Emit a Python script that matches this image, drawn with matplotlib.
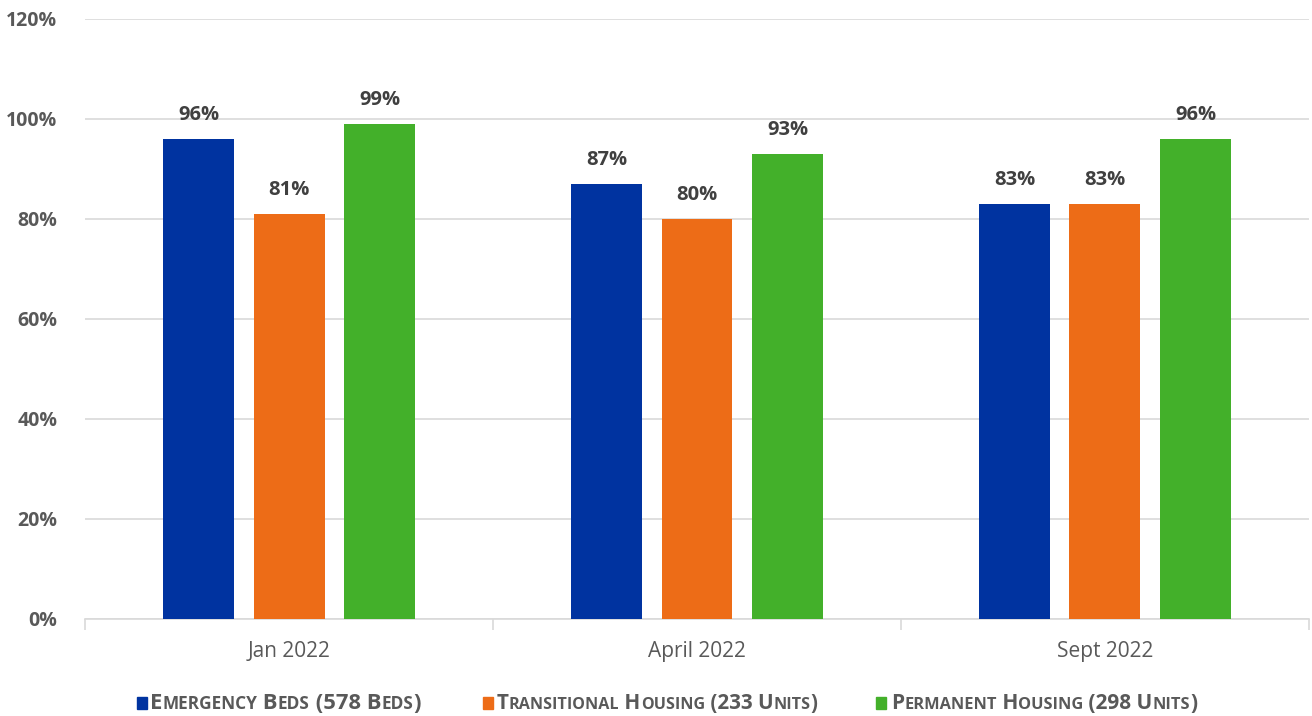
import numpy as np
import matplotlib.pyplot as plt
from matplotlib.patches import Rectangle

plt.rcParams['font.family'] = ['Open Sans', 'DejaVu Sans']

periods = ["Jan 2022", "April 2022", "Sept 2022"]
emergency = [96, 87, 83]
transitional = [81, 80, 83]
permanent = [99, 93, 96]

series = [emergency, transitional, permanent]
labels = ["Emergency Beds (578 Beds)",
          "Transitional Housing (233 Units)",
          "Permanent Housing (298 Units)"]
colors = ["#0033a0", "#ed6c17", "#43b02a"]
grey = "#595959"

fig = plt.figure(figsize=(13.12, 7.16), dpi=100)
ax = fig.add_axes([0.0648, 0.1355, 0.9329, 0.838])

x = np.arange(len(periods))
width = 0.174
step = 0.222
for i, vals in enumerate(series):
    pos = x + (i - 1) * step
    bars = ax.bar(pos, vals, width, color=colors[i], zorder=3)
    for b, v in zip(bars, vals):
        ax.annotate(f"{v}%", (b.get_x() + b.get_width() / 2, v),
                    xytext=(0, 10), textcoords="offset points",
                    ha="center", va="bottom", fontsize=14.5,
                    fontweight="bold", color="#404040")

ax.set_xlim(-0.5, 2.5)
ax.set_ylim(0, 120)
ax.set_yticks(range(0, 121, 20))
ax.set_yticklabels([f"{t}%" for t in range(0, 121, 20)],
                   fontsize=14, fontweight="bold", color=grey)
ax.yaxis.grid(True, color="#d9d9d9", linewidth=1.2, zorder=0)
ax.tick_params(axis="y", length=0, pad=20)

# category labels sit between boundary ticks
ax.set_xticks([-0.5, 0.5, 1.5, 2.5])
ax.set_xticklabels([])
ax.tick_params(axis="x", length=8, color="#d9d9d9", width=1.2)
ax.set_xticks(x, minor=True)
ax.set_xticklabels(periods, minor=True, fontsize=15, color=grey)
ax.tick_params(axis="x", which="minor", length=0, pad=16)

for s in ["top", "right", "left"]:
    ax.spines[s].set_visible(False)
ax.spines["bottom"].set_color("#d9d9d9")
ax.spines["bottom"].set_linewidth(1.2)


def runs(label):
    # small caps: lowercase letters become smaller capitals
    out = []
    for ch in label:
        small = ch.islower()
        if out and out[-1][1] == small:
            out[-1][0] += ch.upper()
        else:
            out.append([ch.upper(), small])
    return out


# legend drawn by hand, in pixel units
renderer = fig.canvas.get_renderer()
sq_x = [137, 483, 876]
txt_x = [150, 497, 891]
txt_end = [421, 817, 1197]
H = fig.bbox.height
base_y = 7
big, small = 14, 11
for lab, c, sx, tx, te in zip(labels, colors, sq_x, txt_x, txt_end):
    fig.patches.append(Rectangle((sx, base_y), 10, 12,
                                 transform=None, color=c))
    # measure natural width, then squeeze to the available span
    pieces = runs(lab)
    w = 0
    for s, sm in pieces:
        t = fig.text(0, 0, s, fontsize=small if sm else big, fontweight="bold")
        w += t.get_window_extent(renderer).width
        t.remove()
    k = (te - tx) / w
    cx = tx
    for s, sm in pieces:
        t = fig.text(cx / fig.bbox.width, base_y / H, s,
                     fontsize=(small if sm else big) * k,
                     fontweight="bold", color=grey, va="baseline")
        cx += t.get_window_extent(renderer).width

fig.savefig("out.png", dpi=100)
